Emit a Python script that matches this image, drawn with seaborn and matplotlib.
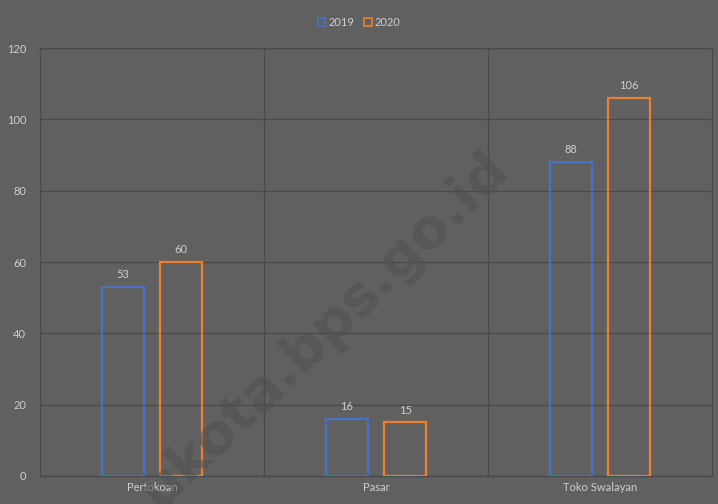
import matplotlib
matplotlib.use("Agg")
import matplotlib.pyplot as plt
import pandas as pd
import seaborn as sns
from matplotlib.patches import Patch

# data
categories = ["Pertokoan", "Pasar", "Toko Swalayan"]
years = ["2019", "2020"]
values_2019 = [53, 16, 88]
values_2020 = [60, 15, 106]
yticks = [0, 20, 40, 60, 80, 100, 120]

df = pd.DataFrame({
    "kategori": categories * 2,
    "tahun": [years[0]] * 3 + [years[1]] * 3,
    "nilai": values_2019 + values_2020,
})

bg = "#606060"
grid_c = "#4a4a4a"
text_c = "#cfcfcf"
colors = {"2019": "#4472C4", "2020": "#ED7D31"}

sns.set_style("white")
plt.rcParams["font.family"] = ["Lato", "DejaVu Sans"]
fig = plt.figure(figsize=(7.18, 5.04), dpi=100, facecolor=bg)
ax = fig.add_axes([0.0557, 0.0556, 0.9359, 0.849])
ax.set_facecolor(bg)

sns.barplot(data=df, x="kategori", y="nilai", hue="tahun", order=categories,
            hue_order=years, palette=colors, fill=False, width=0.52, gap=0.27,
            linewidth=1.6, legend=False, ax=ax, zorder=3)

# label nilai di atas batang
for c in ax.containers:
    ax.bar_label(c, padding=5, color=text_c, fontsize=8)

ax.set_ylim(0, 120)
ax.set_xlim(-0.5, 2.5)
ax.set_yticks(yticks)
ax.yaxis.grid(True, color=grid_c, linewidth=1)
for xv in [0.5, 1.5]:
    ax.axvline(xv, color=grid_c, linewidth=1, zorder=1)
for s in ax.spines.values():
    s.set_color(grid_c)
    s.set_linewidth(1)
ax.tick_params(length=0, colors=text_c, labelsize=8)
ax.tick_params(axis="y", pad=10)
ax.tick_params(axis="x", pad=4)
ax.set_xlabel("")
ax.set_ylabel("")

# legenda
handles = [Patch(facecolor="none", edgecolor=colors[y], linewidth=1.2, label=y) for y in years]
fig.legend(handles=handles, loc="center", bbox_to_anchor=(0.5, 0.956), ncol=2,
           frameon=False, fontsize=8, labelcolor=text_c, handlelength=0.7,
           handleheight=0.7, handletextpad=0.25, columnspacing=0.9)

# watermark
fig.text(0.452, 0.345, "ukota.bps.go.id", rotation=44, fontsize=40, fontweight="bold",
         family="DejaVu Sans", color="#4f4f4f", alpha=0.5, ha="center", va="center",
         zorder=0)

fig.savefig("out.png", dpi=100, facecolor=bg)
